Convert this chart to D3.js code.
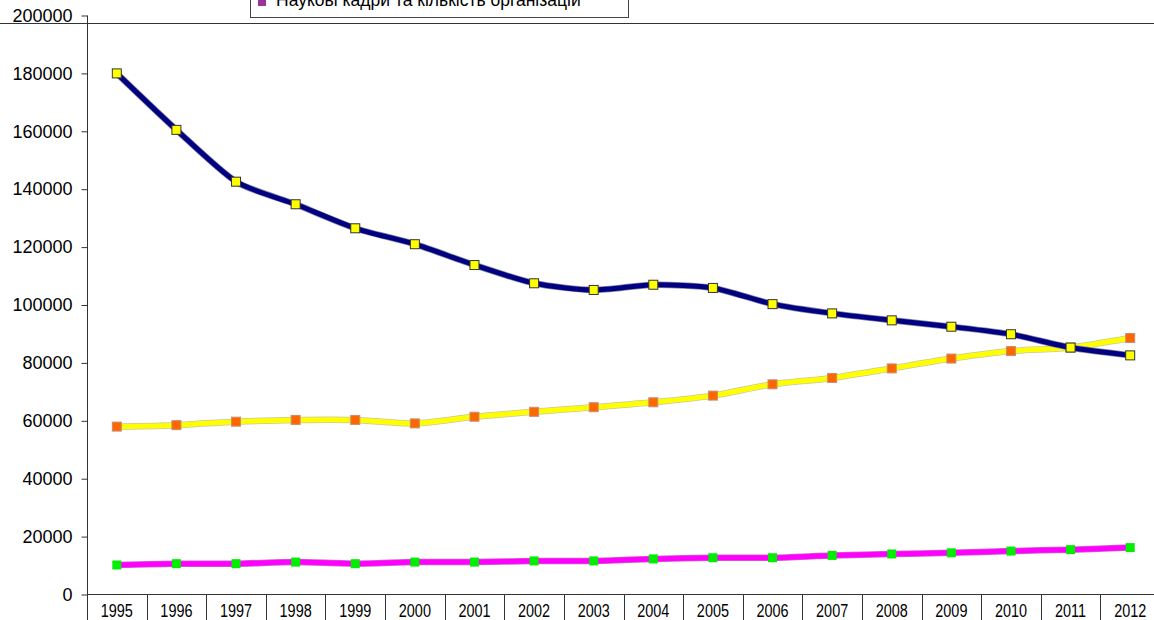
<!DOCTYPE html>
<html>
<head>
<meta charset="utf-8">
<script src="https://cdn.jsdelivr.net/npm/d3@7"></script>
<style>
html, body { margin: 0; padding: 0; background: #fff; overflow: hidden; }
svg { display: block; font-family: "Liberation Sans", Arial, sans-serif; }
</style>
</head>
<body>
<svg id="chart" width="1154" height="620"></svg>
<script>
const years = ["1995","1996","1997","1998","1999","2000","2001","2002","2003","2004","2005","2006","2007","2008","2009","2010","2011","2012"];
const seriesA = [180000,160500,142600,134800,126500,121000,113800,107500,105200,107000,105900,100300,97100,94700,92500,89900,85300,82600];
const seriesB = [58000,58500,59700,60300,60300,59100,61400,63100,64700,66400,68700,72600,74800,78100,81500,84100,85300,88600];
const seriesC = [10200,10650,10650,11200,10650,11200,11200,11600,11600,12300,12700,12700,13500,14000,14400,15000,15500,16200];
const yTicks = [0,20000,40000,60000,80000,100000,120000,140000,160000,180000,200000];
const legendLabel = "Наукові кадри та кількість організацій";

const svg = d3.select("#chart");
const x = d3.scaleBand().domain(years).range([87, 1160]).padding(0);
const y = d3.scaleLinear().domain([0, 200000]).range([594.5, 15.5]);

// top horizontal border line
svg.append("line").attr("x1", 0).attr("x2", 1154).attr("y1", 23.5).attr("y2", 23.5)
  .attr("stroke", "#333").attr("stroke-width", 1);

// y axis
const yAxis = svg.append("g").attr("transform", "translate(87.5,0)")
  .call(d3.axisLeft(y).tickValues(yTicks).tickSize(6).tickPadding(9).tickFormat(d3.format("d")));
yAxis.select(".domain").attr("stroke", "#333").attr("d", `M0,${y(200000)}V${y(0)}`);
yAxis.selectAll(".tick line").attr("stroke", "#333");
yAxis.selectAll(".tick text").attr("font-size", "18px").attr("fill", "#000")
  .attr("font-family", "Liberation Sans, Arial, sans-serif");

// x axis
const xg = svg.append("g");
xg.append("line").attr("x1", 87).attr("x2", 1160).attr("y1", 594.5).attr("y2", 594.5).attr("stroke", "#333");
const bounds = years.map(d => x(d)).concat([x(years[years.length-1]) + x.bandwidth()]);
xg.selectAll("line.sep").data(bounds).enter().append("line").attr("class", "sep")
  .attr("x1", d => Math.round(d) + 0.5).attr("x2", d => Math.round(d) + 0.5)
  .attr("y1", 594.5).attr("y2", 620).attr("stroke", "#333");
xg.selectAll("text").data(years).enter().append("text")
  .attr("transform", d => `translate(${x(d) + x.bandwidth()/2},616.5) scale(0.76,1)`)
  .attr("text-anchor", "middle").attr("font-size", "19px").attr("fill", "#000")
  .text(d => d);

function drawSeries(values, lineColor, lineWidth, halo, markerFill, markerStroke) {
  const pts = values.map((v, i) => [x(years[i]) + x.bandwidth()/2, y(v)]);
  const line = d3.line().curve(d3.curveCardinal.tension(0.3));
  if (halo) {
    svg.append("path").attr("d", line(pts)).attr("fill", "none")
      .attr("stroke", halo).attr("stroke-width", lineWidth + 1.5).attr("stroke-linejoin", "round");
  }
  svg.append("path").attr("d", line(pts)).attr("fill", "none")
    .attr("stroke", lineColor).attr("stroke-width", lineWidth).attr("stroke-linejoin", "round");
  svg.append("g").selectAll("rect").data(pts).enter().append("rect")
    .attr("x", d => d[0] - 4.5).attr("y", d => d[1] - 4.5)
    .attr("width", 9).attr("height", 9)
    .attr("fill", markerFill)
    .attr("stroke", markerStroke || "none").attr("stroke-width", markerStroke ? 1 : 0);
}

drawSeries(seriesC, "#FF00FF", 5, "#cc66cc", "#00EE00", null);
drawSeries(seriesB, "#FFFF00", 5, "#c8c8a0", "#FF6600", "#c89070");
drawSeries(seriesA, "#000080", 5, "#8888aa", "#FFFF00", "#333333");

// legend (cut off at top, as in the reference)
const lg = svg.append("g");
lg.append("rect").attr("x", 250.5).attr("y", -20).attr("width", 378).attr("height", 37.5)
  .attr("fill", "#fff").attr("stroke", "#444").attr("stroke-width", 1);
lg.append("rect").attr("x", 258).attr("y", -2).attr("width", 8).attr("height", 8).attr("fill", "#993399");
lg.append("text").attr("x", 276).attr("y", 6).attr("font-size", "17.5px").attr("fill", "#000")
  .text(legendLabel);
</script>
</body>
</html>
